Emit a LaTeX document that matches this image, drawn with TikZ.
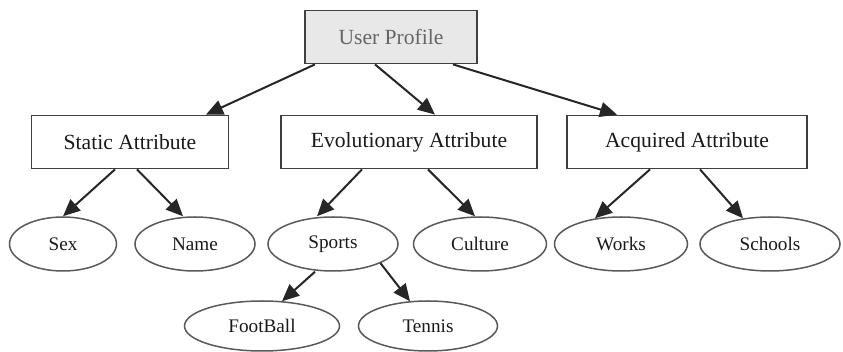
\documentclass[tikz,border=0pt]{standalone}
\usepackage{fontspec}
\setmainfont{Liberation Serif}
\usetikzlibrary{arrows.meta,calc,positioning,shapes.geometric}
\tikzset{
	attr/.style={draw=black!75,line width=0.9pt,minimum height=26.5pt,inner sep=0pt,
		font=\fontsize{10.8}{12}\selectfont,text=black!90},
	root/.style={attr,fill=black!9,text=black!60},
	leaf/.style={ellipse,draw=black!65,line width=0.75pt,minimum height=27pt,inner sep=0pt,
		font=\fontsize{9.6}{11}\selectfont,text=black!90},
	ar/.style={draw=black!85,line width=1pt,-{Triangle[length=8.5pt,width=7.5pt]}}
}

\begin{document}
\begin{tikzpicture}[x=0.5pt,y=0.5pt,on grid]
      \useasboundingbox (0,0) rectangle (843,-352);
      \node [root,minimum width=86pt] (up) at (391,-37) {User Profile};
      \node [attr,below left=105 and 261 of up,minimum width=98.5pt] (static) {Static Attribute};
      \node [attr,below right=105 and 18 of up,minimum width=128pt] (evol) {Evolutionary Attribute};
      \node [attr,below right=105 and 296 of up,minimum width=120pt] (acq) {Acquired Attribute};
      \node [leaf,below left=102 and 67 of static,minimum width=53.5pt] (sex) {Sex};
      \node [leaf,below right=102 and 65 of static,minimum width=60pt] (name) {Name};
      \node [leaf,below left=102 and 76 of evol,minimum width=65pt] (sports) {Sports};
      \node [leaf,below right=102 and 71 of evol,minimum width=66.5pt] (culture) {Culture};
      \node [leaf,below left=102 and 66 of acq,minimum width=66.5pt] (works) {Works};
      \node [leaf,below right=102 and 83 of acq,minimum width=70pt] (schools) {Schools};
      \node [leaf,below left=82 and 71 of sports,minimum width=77.5pt,minimum height=25pt] (football) {FootBall};
      \node [leaf,below right=82 and 95 of sports,minimum width=69.5pt,minimum height=25pt] (tennis) {Tennis};
      \draw [ar] ($(up.south)+(-76,0)$) -- ($(static.north)+(76,0)$);
      \draw [ar] ($(up.south)+(-16,0)$) -- ($(evol.north)+(26,0)$);
      \draw [ar] ($(up.south)+(62,0)$) -- ($(acq.north)+(-70,0)$);
      \draw [ar] ($(static.south)+(-15,0)$) -- (sex.north);
      \draw [ar] ($(static.south)+(7,0)$) -- ($(name.north)+(-12,0)$);
      \draw [ar] ($(evol.south)+(-47,0)$) -- ($(sports.north)+(-16,0)$);
      \draw [ar] ($(evol.south)+(19,0)$) -- ($(culture.north)+(-5,0)$);
      \draw [ar] ($(acq.south)+(-37,0)$) -- ($(works.north)+(-26,-2)$);
      \draw [ar] ($(acq.south)+(13,0)$) -- ($(schools.north)+(-27,-2)$);
      \draw [ar] ($(sports.south)+(-18,0)$) -- ($(football.north)+(20,-1)$);
      \draw [ar] (sports.-22) -- ($(tennis.north)+(-18,-1)$);
   \end{tikzpicture}
\end{document}
